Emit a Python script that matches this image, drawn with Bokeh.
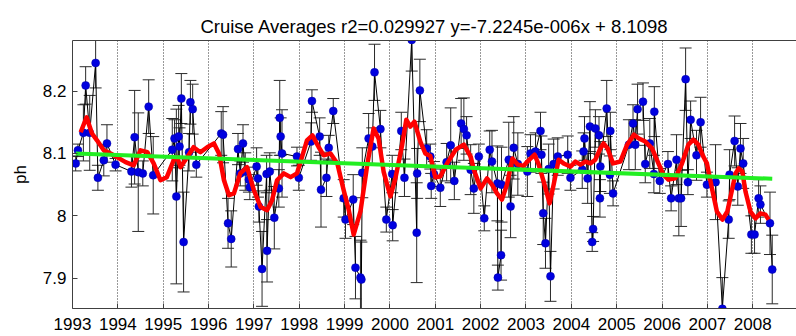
from bokeh.plotting import figure
from bokeh.models import Range1d, FixedTicker, LinearAxis, Whisker, TeeHead, ColumnDataSource
from bokeh.embed import file_html
from bokeh.resources import INLINE

title_text = "Cruise Averages r2=0.029927 y=-7.2245e-006x + 8.1098"
y_label = "ph"

year_ticks = list(range(1993, 2009))
ph_ticks = [7.9, 8.0, 8.1, 8.2]
ph_labels = ["7.9", "8", "8.1", "8.2"]

# cruise averages: decimal year, pH, error half-width
years = [1993.07, 1993.12, 1993.24, 1993.29, 1993.38, 1993.51, 1993.56, 1993.69, 1993.76, 1993.95,
         1994.30, 1994.37, 1994.45, 1994.55, 1994.68, 1994.78, 1995.20, 1995.25, 1995.29, 1995.34,
         1995.36, 1995.40, 1995.45, 1995.57, 1995.60, 1995.65, 1995.73, 1996.28, 1996.32, 1996.43,
         1996.50, 1996.65, 1996.70, 1996.76, 1996.81, 1996.89, 1996.91, 1997.06, 1997.09, 1997.11,
         1997.18, 1997.28, 1997.29, 1997.35, 1997.45, 1997.55, 1997.57, 1997.59, 1997.62, 1997.95,
         1997.99, 1998.26, 1998.28, 1998.45, 1998.48, 1998.60, 1998.65, 1998.75, 1998.98, 1999.02,
         1999.19, 1999.24, 1999.35, 1999.37, 1999.39, 1999.53, 1999.61, 1999.66, 1999.79, 1999.92,
         2000.05, 2000.06, 2000.25, 2000.32, 2000.48, 2000.59, 2000.60, 2000.66, 2000.81, 2000.89,
         2000.91, 2000.97, 2001.11, 2001.25, 2001.34, 2001.42, 2001.57, 2001.63, 2001.69, 2001.78,
         2001.85, 2001.96, 2002.08, 2002.20, 2002.25, 2002.37, 2002.38, 2002.45, 2002.46, 2002.62,
         2002.66, 2002.73, 2002.82, 2003.03, 2003.10, 2003.21, 2003.32, 2003.34, 2003.38, 2003.43,
         2003.50, 2003.54, 2003.61, 2003.70, 2003.92, 2003.98, 2004.24, 2004.27, 2004.29, 2004.36,
         2004.41, 2004.46, 2004.48, 2004.53, 2004.61, 2004.63, 2004.64, 2004.78, 2004.85, 2004.86,
         2004.92, 2005.27, 2005.36, 2005.41, 2005.46, 2005.58, 2005.63, 2005.73, 2005.82, 2005.83,
         2005.95, 2006.13, 2006.20, 2006.32, 2006.37, 2006.42, 2006.52, 2006.57, 2006.63, 2006.76,
         2006.85, 2006.99, 2007.18, 2007.33, 2007.47, 2007.49, 2007.60, 2007.67, 2007.73, 2007.79,
         2007.97, 2008.04, 2008.13, 2008.17, 2008.38, 2008.43]
ph = [8.084, 8.105, 8.133, 8.209, 8.133, 8.245, 8.061, 8.089, 8.116, 8.082,
      8.071, 8.126, 8.070, 8.068, 8.175, 8.065, 8.106, 8.124, 8.031, 8.127,
      8.111, 8.188, 7.958, 8.102, 8.182, 8.171, 8.082, 8.132, 8.130, 7.988,
      7.963, 8.107, 8.068, 8.116, 8.071, 8.058, 8.046, 8.079, 8.060, 8.015,
      7.915, 8.067, 7.944, 8.071, 7.997, 8.044, 8.157, 8.127, 8.100, 8.095,
      8.061, 8.119, 8.184, 8.127, 8.042, 8.061, 8.109, 8.168, 8.028, 7.994,
      8.026, 7.917, 7.901, 7.898, 8.069, 8.124, 8.111, 8.230, 8.139, 7.994,
      8.067, 7.985, 8.136, 8.061, 8.282, 7.973, 8.068, 8.201, 8.108, 8.095,
      8.048, 8.067, 8.045, 8.086, 8.113, 8.056, 8.148, 8.139, 8.129, 8.074,
      8.044, 8.095, 7.996, 8.106, 8.087, 8.052, 7.901, 7.937, 8.050, 8.090,
      8.015, 8.109, 8.083, 8.071, 8.100, 8.103, 8.136, 8.098, 8.004, 7.956,
      8.075, 7.903, 8.083, 8.095, 8.098, 8.061, 8.074, 8.103, 8.124, 8.060,
      8.143, 7.958, 7.979, 8.140, 8.129, 8.028, 8.079, 8.172, 8.066, 8.136,
      8.036, 8.114, 8.148, 8.114, 8.171, 8.183, 8.083, 8.116, 8.067, 8.167,
      8.056, 8.083, 8.028, 8.090, 8.028, 8.028, 8.219, 8.054, 8.154, 8.097,
      8.150, 8.050, 8.054, 7.851, 7.994, 8.066, 8.120, 8.047, 8.108, 8.084,
      7.970, 7.970, 8.028, 8.018, 7.988, 7.914]
err = [0.012, 0.010, 0.045, 0.030, 0.060, 0.040, 0.020, 0.025, 0.030, 0.010,
       0.025, 0.075, 0.095, 0.020, 0.043, 0.062, 0.050, 0.030, 0.140, 0.050,
       0.030, 0.040, 0.080, 0.030, 0.035, 0.040, 0.020, 0.035, 0.045, 0.040,
       0.045, 0.025, 0.020, 0.030, 0.030, 0.020, 0.020, 0.030, 0.030, 0.025,
       0.060, 0.030, 0.050, 0.030, 0.050, 0.030, 0.060, 0.030, 0.070, 0.015,
       0.020, 0.030, 0.018, 0.030, 0.060, 0.030, 0.020, 0.020, 0.030, 0.030,
       0.040, 0.050, 0.060, 0.060, 0.040, 0.040, 0.030, 0.045, 0.030, 0.020,
       0.030, 0.025, 0.030, 0.030, 0.050, 0.080, 0.040, 0.050, 0.030, 0.020,
       0.020, 0.020, 0.030, 0.030, 0.060, 0.030, 0.040, 0.050, 0.030, 0.040,
       0.040, 0.020, 0.020, 0.030, 0.050, 0.060, 0.020, 0.040, 0.060, 0.060,
       0.050, 0.050, 0.050, 0.040, 0.030, 0.030, 0.030, 0.030, 0.050, 0.040,
       0.040, 0.040, 0.040, 0.030, 0.030, 0.020, 0.030, 0.030, 0.035, 0.040,
       0.040, 0.015, 0.020, 0.030, 0.030, 0.030, 0.040, 0.045, 0.030, 0.030,
       0.020, 0.040, 0.030, 0.040, 0.040, 0.030, 0.030, 0.040, 0.030, 0.040,
       0.020, 0.020, 0.020, 0.040, 0.060, 0.045, 0.050, 0.020, 0.030, 0.040,
       0.040, 0.020, 0.060, 0.050, 0.030, 0.040, 0.040, 0.030, 0.040, 0.040,
       0.030, 0.030, 0.030, 0.030, 0.050, 0.055]

# smoothed curve (red)
smooth_years = [1993.18, 1993.31, 1993.43, 1993.54, 1993.69, 1993.84, 1993.98, 1994.17, 1994.35, 1994.50,
                1994.65, 1994.79, 1994.94, 1995.08, 1995.23, 1995.31, 1995.38, 1995.53, 1995.67, 1995.82,
                1995.97, 1996.12, 1996.23, 1996.34, 1996.45, 1996.56, 1996.70, 1996.85, 1997.00, 1997.15,
                1997.29, 1997.40, 1997.51, 1997.66, 1997.81, 1997.95, 1998.06, 1998.17, 1998.29, 1998.43,
                1998.54, 1998.69, 1998.84, 1998.98, 1999.09, 1999.20, 1999.35, 1999.50, 1999.64, 1999.75,
                1999.86, 2000.01, 2000.12, 2000.27, 2000.36, 2000.45, 2000.54, 2000.67, 2000.78, 2000.89,
                2001.00, 2001.11, 2001.26, 2001.45, 2001.63, 2001.78, 2001.85, 2002.00, 2002.14, 2002.25,
                2002.36, 2002.47, 2002.58, 2002.70, 2002.82, 2002.95, 2003.03, 2003.19, 2003.28, 2003.39,
                2003.52, 2003.61, 2003.72, 2003.83, 2003.98, 2004.09, 2004.20, 2004.31, 2004.42, 2004.53,
                2004.64, 2004.71, 2004.80, 2004.92, 2005.08, 2005.23, 2005.38, 2005.49, 2005.63, 2005.78,
                2005.92, 2006.03, 2006.14, 2006.29, 2006.43, 2006.58, 2006.69, 2006.80, 2006.91, 2006.99,
                2007.10, 2007.21, 2007.33, 2007.44, 2007.55, 2007.62, 2007.69, 2007.77, 2007.84, 2007.95,
                2008.06, 2008.17, 2008.28, 2008.35]
smooth_ph = [8.134, 8.158, 8.132, 8.121, 8.105, 8.100, 8.094, 8.086, 8.081, 8.105,
             8.102, 8.084, 8.057, 8.062, 8.089, 8.094, 8.078, 8.094, 8.110, 8.102,
             8.110, 8.116, 8.100, 8.057, 8.033, 8.036, 8.068, 8.078, 8.041, 8.014,
             8.009, 8.025, 8.057, 8.068, 8.062, 8.068, 8.094, 8.121, 8.129, 8.110,
             8.097, 8.100, 8.084, 8.041, 8.010, 7.970, 8.007, 8.082, 8.140, 8.124,
             8.071, 8.031, 8.060, 8.114, 8.154, 8.143, 8.151, 8.119, 8.100, 8.096,
             8.062, 8.063, 8.084, 8.106, 8.114, 8.095, 8.074, 8.044, 8.060, 8.050,
             8.036, 8.026, 8.050, 8.092, 8.082, 8.080, 8.087, 8.098, 8.082, 8.055,
             8.020, 8.050, 8.090, 8.084, 8.079, 8.087, 8.082, 8.087, 8.084, 8.090,
             8.108, 8.116, 8.108, 8.084, 8.087, 8.114, 8.130, 8.124, 8.119, 8.108,
             8.084, 8.066, 8.058, 8.060, 8.082, 8.114, 8.122, 8.114, 8.095, 8.084,
             8.044, 8.007, 7.994, 8.007, 8.044, 8.068, 8.076, 8.071, 8.039, 8.007,
             7.996, 8.004, 8.002, 7.994]

# linear trend (green)
trend_years = [1993.07, 2008.43]
trend_ph = [8.100, 8.0595]

FONT = "Liberation Sans"

p = figure(width=796, height=336, output_backend="svg", toolbar_location=None,
           x_range=Range1d(1993, 2008.965), y_range=Range1d(7.8515, 8.281),
           min_border_left=72, min_border_right=0, min_border_top=40, min_border_bottom=28,
           x_axis_location=None, y_axis_location=None)
p.outline_line_color = None
p.background_fill_color = "white"
p.border_fill_color = "white"

p.title.text = title_text
p.title.align = "center"
p.title.text_font = FONT
p.title.text_font_size = "18.5px"
p.title.text_font_style = "normal"
p.title.text_color = "black"
p.title.standoff = 8

def style_axis(ax):
    ax.major_tick_in = 5
    ax.major_tick_out = 0
    ax.minor_tick_line_color = None
    ax.axis_line_color = "#404040"
    ax.major_tick_line_color = "#404040"
    ax.major_label_text_font = FONT
    ax.major_label_text_font_size = "17px"
    ax.major_label_text_color = "black"

xb = LinearAxis(ticker=FixedTicker(ticks=year_ticks))
style_axis(xb)
xb.major_label_standoff = 9
xb.major_label_overrides = {t: str(t) for t in year_ticks}
p.add_layout(xb, "below")

# top border line only
xt = LinearAxis(ticker=FixedTicker(ticks=[]))
style_axis(xt)
xt.major_label_standoff = 0
p.add_layout(xt, "above")

yl = LinearAxis(ticker=FixedTicker(ticks=ph_ticks), axis_label=y_label)
style_axis(yl)
yl.major_label_standoff = 6
yl.major_label_overrides = dict(zip(ph_ticks, ph_labels))
yl.axis_label_text_font = FONT
yl.axis_label_text_font_size = "17px"
yl.axis_label_text_font_style = "normal"
yl.axis_label_text_color = "black"
yl.axis_label_standoff = 10
p.add_layout(yl, "left")

p.xgrid.ticker = FixedTicker(ticks=year_ticks)
p.xgrid.grid_line_color = "#333333"
p.xgrid.grid_line_dash = "1 2"
p.xgrid.grid_line_width = 1
p.ygrid.grid_line_color = None

lower = [v - e for v, e in zip(ph, err)]
upper = [v + e for v, e in zip(ph, err)]
src = ColumnDataSource(dict(x=years, y=ph, lower=lower, upper=upper))

wh = Whisker(base="x", lower="lower", upper="upper", source=src, dimension="height",
             line_color="#2a2a2a", line_width=1,
             upper_head=TeeHead(size=12, line_color="#2a2a2a", line_width=1),
             lower_head=TeeHead(size=12, line_color="#2a2a2a", line_width=1))
p.add_layout(wh)

p.line("x", "y", source=src, line_color="black", line_width=1)
p.scatter("x", "y", source=src, size=8, fill_color="#0000E0", line_color="#0000A0", line_width=0.5)

p.line(smooth_years, smooth_ph, line_color="#FF0000", line_width=4.5, line_join="round")
p.line(trend_years, trend_ph, line_color="#22EE22", line_width=4)

open("out.html", "w").write(file_html(p, INLINE))
